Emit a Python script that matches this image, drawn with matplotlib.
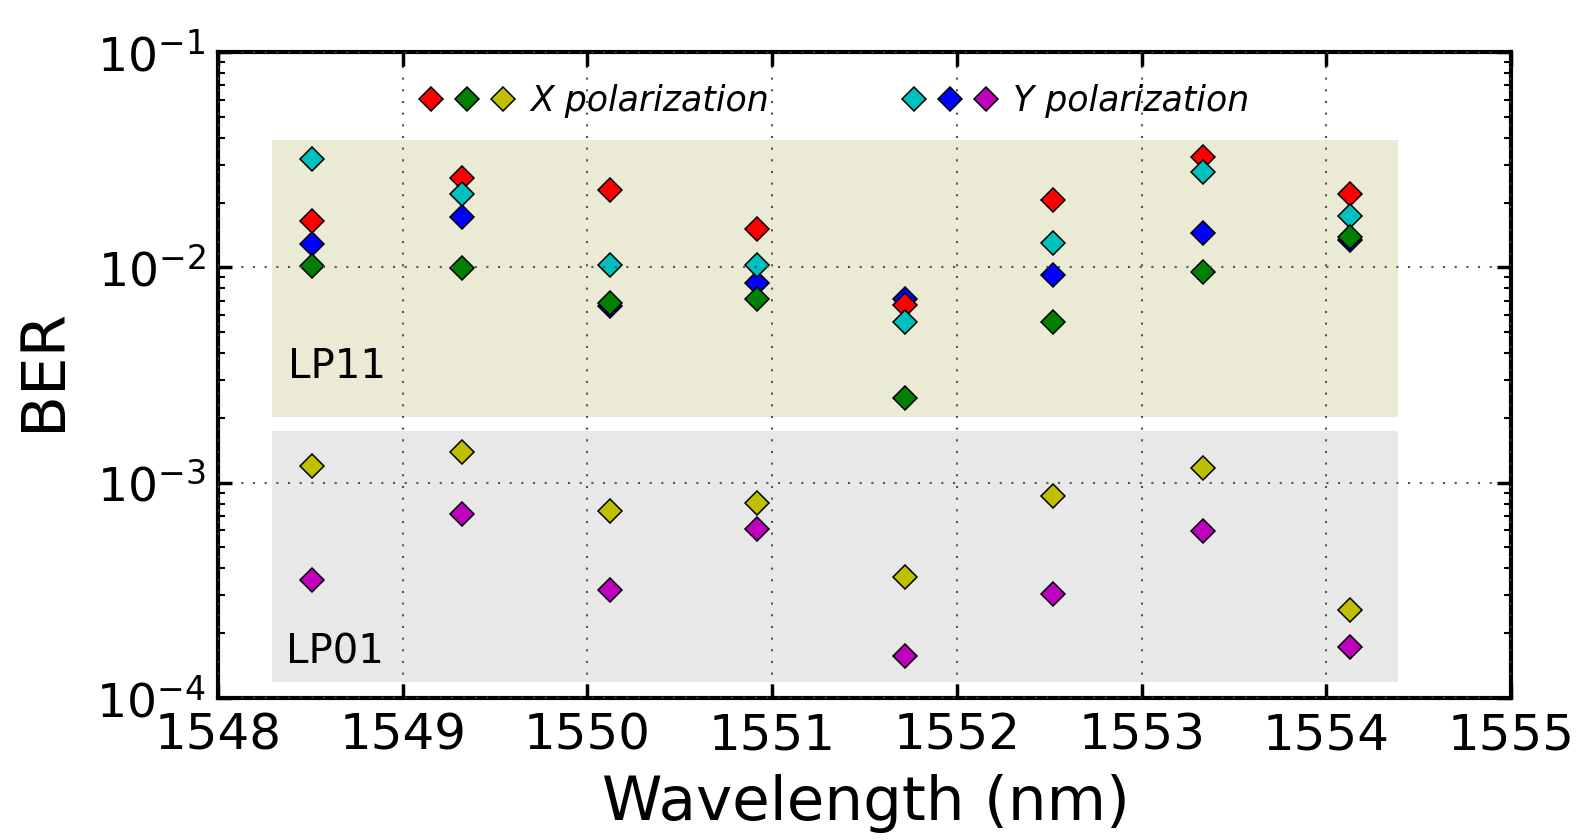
import matplotlib
matplotlib.use('Agg')
import matplotlib.pyplot as plt
from matplotlib.legend_handler import HandlerTuple
from matplotlib.ticker import LogLocator, NullFormatter

plt.rcParams['axes.unicode_minus'] = False

# channel wavelengths (nm)
wavelength = [1548.51, 1549.32, 1550.12, 1550.92, 1551.72, 1552.52, 1553.33, 1554.13]

# X polarization
x_red = [0.0165, 0.0261, 0.0229, 0.0151, 0.00672, 0.0205, 0.0327, 0.0220]
x_green = [0.0101, 0.0099, 0.00684, 0.00716, 0.00248, 0.00556, 0.00952, 0.0139]
x_yellow = [0.00119, 0.00139, 0.000738, 0.000807, 0.000366, 0.000867, 0.00117, 0.000257]

# Y polarization
y_cyan = [0.0318, 0.0219, 0.0102, 0.0102, 0.00558, 0.0130, 0.0276, 0.0174]
y_blue = [0.0128, 0.0172, 0.00659, 0.00847, 0.00714, 0.00925, 0.0145, 0.0134]
y_magenta = [0.000353, 0.000713, 0.000316, 0.000612, 0.000157, 0.000305, 0.000597, 0.000173]

# shaded mode regions
band_x = [1548.29, 1554.39]
lp11_range = (0.00202, 0.039)
lp01_range = (0.000119, 0.00173)

fig = plt.figure(figsize=(15.93, 8.4), dpi=100)
ax = fig.add_axes([218 / 1593, 1 - 698 / 840, 1293 / 1593, 646 / 840])

ax.fill_between(band_x, *lp11_range, color='#eaead5', lw=0, zorder=0)
ax.fill_between(band_x, *lp01_range, color='#e8e8e8', lw=0, zorder=0)
ax.text(1548.38, 0.00343, 'LP11', fontsize=29, va='center', ha='left')
ax.text(1548.37, 0.000163, 'LP01', fontsize=29, va='center', ha='left')

mk = dict(marker='D', ms=12.5, mec='black', mew=1.1, linestyle='none')
series = [
    (y_blue, 'b'), (x_red, 'r'), (y_cyan, 'c'), (x_green, 'g'),
    (x_yellow, 'y'), (y_magenta, 'm'),
]
handles = {}
for vals, col in series:
    handles[col], = ax.plot(wavelength, vals, mfc=col, **mk)

ax.set_yscale('log')
ax.set_xlim(1548, 1555)
ax.set_ylim(1e-4, 1e-1)
ax.set_xticks(range(1548, 1556))
ax.yaxis.set_minor_locator(LogLocator(base=10, subs=range(2, 10)))
ax.yaxis.set_minor_formatter(NullFormatter())

ax.set_axisbelow(False)
ax.grid(True, which='major', color='#555555', linewidth=1.5, linestyle=(0, (1, 4.6)))

for s in ax.spines.values():
    s.set_linewidth(3)
ax.tick_params(which='both', direction='in', top=True, right=True)
ax.tick_params(axis='x', pad=10, labelsize=36)
ax.tick_params(axis='y', pad=9, labelsize=34)
ax.tick_params(which='major', length=10, width=2.5)
ax.tick_params(which='minor', length=5, width=1.5)

ax.set_xlabel('Wavelength (nm)', fontsize=44)
ax.set_ylabel('BER', fontsize=44)
ax.xaxis.label.set_va('center')
ax.xaxis.set_label_coords(0.501, -0.163)
ax.yaxis.label.set_va('center')
ax.yaxis.label.set_rotation_mode('default')
ax.yaxis.set_label_coords(-0.135, 0.509)

# legend groups
leg_kw = dict(handler_map={tuple: HandlerTuple(ndivide=None, pad=0.35)},
              loc='center left', frameon=False, borderpad=0, borderaxespad=0,
              handlelength=2.77, handletextpad=0.43,
              prop={'style': 'italic', 'size': 25})
leg1 = ax.legend([(handles['r'], handles['g'], handles['y'])], ['X polarization'],
                 bbox_to_anchor=(0.1555, 0.924), **leg_kw)
ax.add_artist(leg1)
ax.legend([(handles['c'], handles['b'], handles['m'])], ['Y polarization'],
          bbox_to_anchor=(0.529, 0.924), **leg_kw)

fig.savefig('out.png', dpi=100)
